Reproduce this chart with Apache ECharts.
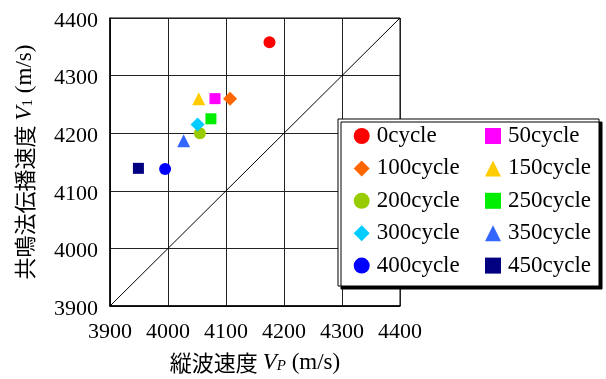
<!DOCTYPE html>
<html>
<head>
<meta charset="utf-8">
<script src="https://cdn.jsdelivr.net/npm/echarts@6/dist/echarts.min.js"></script>
<style>
html,body{margin:0;padding:0;background:#fff;}
#c{width:606px;height:379px;}
</style>
</head>
<body>
<div id="c"></div>
<script>
// ---- data ----
var seriesNames = ['0cycle','50cycle','100cycle','150cycle','200cycle','250cycle','300cycle','350cycle','400cycle','450cycle'];
var vp = [4175, 4081, 4107, 4053, 4055, 4074, 4051, 4027, 3995, 3949];
var v1 = [4358, 4260, 4260, 4260, 4200, 4225, 4215, 4187, 4138, 4139];
var symbols = ['circle','rect','diamond','triangle','circle','rect','diamond','triangle','circle','rect'];
var colors = ['#ff0000','#ff00ff','#ff6600','#ffcc00','#99cc00','#00ee00','#00ccff','#3366ff','#0000ff','#000080'];
var symbolSizes = [12, 11, 14, 13, 12, 11, 14, 13, 12, 11];
var axisTicks = [3900, 4000, 4100, 4200, 4300, 4400];
var diagX = [3900, 4400];
var diagY = [3900, 4400];
var leftCol = ['0cycle','100cycle','200cycle','300cycle','400cycle'];
var rightCol = ['50cycle','150cycle','250cycle','350cycle','450cycle'];

var serif = "Liberation Serif";
var cjk = "Noto Sans CJK JP";

var series = [{
  type: 'line',
  name: 'diag',
  data: diagX.map(function(x, i){ return [x, diagY[i]]; }),
  symbol: 'none',
  lineStyle: {color: '#000', width: 1},
  silent: true,
  z: 1
}];
seriesNames.forEach(function(n, i){
  series.push({
    type: 'scatter',
    name: n,
    data: [[vp[i], v1[i]]],
    symbol: symbols[i],
    symbolSize: symbolSizes[i],
    itemStyle: {color: colors[i], opacity: 1},
    z: 3
  });
});

var legendCommon = {
  orient: 'vertical',
  top: 124,
  padding: 0,
  itemWidth: 16,
  itemHeight: 16,
  itemGap: 8.4,
  z: 20,
  selectedMode: false,
  textStyle: {fontFamily: serif, fontSize: 23, color: '#000', lineHeight: 24, padding: [0,0,0,2]}
};

function fmt(v){ return String(v); }

var chart = echarts.init(document.getElementById('c'));
chart.setOption({
  animation: false,
  backgroundColor: '#fff',
  grid: {left: 110, top: 18, width: 290, height: 290, show: true, borderColor: '#000', borderWidth: 1},
  xAxis: {
    type: 'value', min: axisTicks[0], max: axisTicks[axisTicks.length-1], interval: 100,
    axisLine: {lineStyle: {color: '#000', width: 1.5}},
    axisTick: {show: false},
    splitLine: {lineStyle: {color: '#222', width: 1}},
    axisLabel: {fontFamily: serif, fontSize: 22, color: '#000', margin: 15, formatter: fmt},
    name: '{c|縦波速度 }{i|V}{s|P}{t| (m/s)}',
    nameLocation: 'middle',
    nameGap: 45,
    nameTextStyle: {
      rich: {
        c: {fontFamily: cjk, fontSize: 22, color: '#000'},
        i: {fontFamily: serif, fontStyle: 'italic', fontSize: 23, color: '#000'},
        s: {fontFamily: serif, fontStyle: 'italic', fontSize: 15, color: '#000', verticalAlign: 'bottom', padding: [8,0,0,0]},
        t: {fontFamily: serif, fontSize: 23, color: '#000'}
      }
    }
  },
  yAxis: {
    type: 'value', min: axisTicks[0], max: axisTicks[axisTicks.length-1], interval: 100,
    axisLine: {lineStyle: {color: '#000', width: 1.5}},
    axisTick: {show: false},
    splitLine: {lineStyle: {color: '#222', width: 1}},
    axisLabel: {fontFamily: serif, fontSize: 22, color: '#000', margin: 12, formatter: fmt, verticalAlign: 'top', lineHeight: 6},
    name: '{c|共鳴法伝播速度 }{i|V}{s|1}{t| (m/s)}',
    nameLocation: 'middle',
    nameRotate: 90,
    nameGap: 74,
    nameTextStyle: {
      rich: {
        c: {fontFamily: cjk, fontSize: 22, color: '#000'},
        i: {fontFamily: serif, fontStyle: 'italic', fontSize: 23, color: '#000'},
        s: {fontFamily: serif, fontSize: 15, color: '#000', verticalAlign: 'bottom', padding: [8,0,0,0]},
        t: {fontFamily: serif, fontSize: 23, color: '#000'}
      }
    }
  },
  legend: [
    Object.assign({left: 353.7, data: leftCol}, legendCommon),
    Object.assign({left: 485, data: rightCol}, legendCommon)
  ],
  graphic: [{
    type: 'rect',
    z: 10,
    shape: {x: 338, y: 119, width: 261, height: 167},
    style: {fill: '#fff', stroke: '#000', lineWidth: 1, shadowColor: '#000', shadowBlur: 0, shadowOffsetX: 3, shadowOffsetY: 3}
  }],
  series: series
});
</script>
</body>
</html>
